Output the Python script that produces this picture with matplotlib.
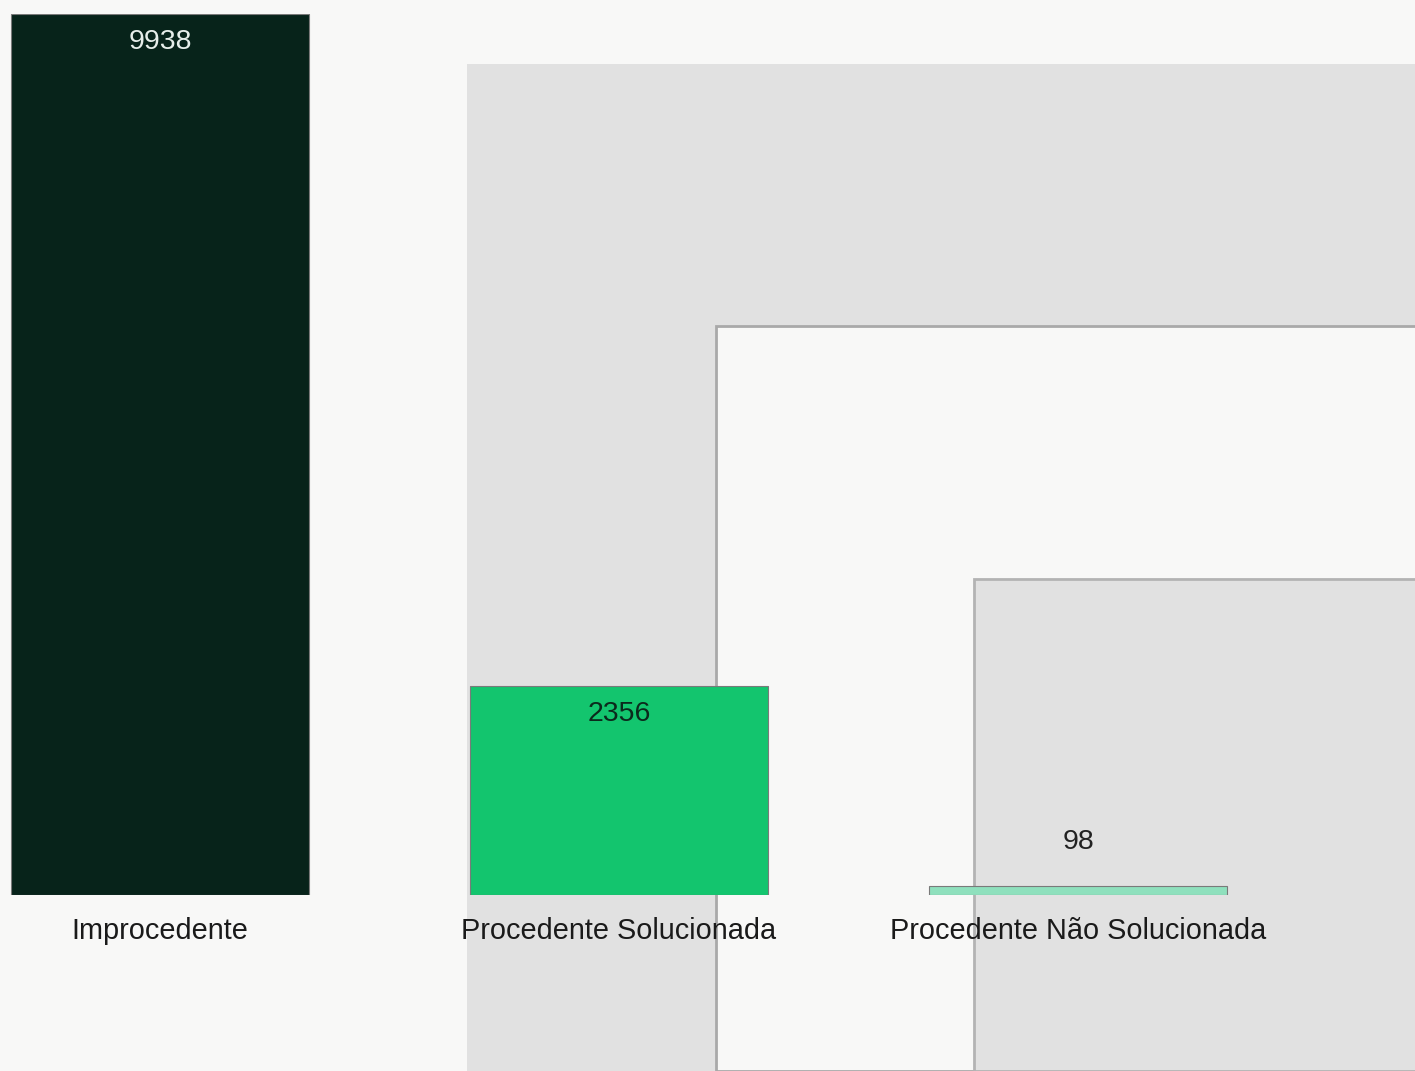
import numpy as np
import matplotlib
matplotlib.use('Agg')
import matplotlib.pyplot as plt
from matplotlib.patches import Rectangle

## data
categorias=['Improcedente','Procedente Solucionada','Procedente Não Solucionada']
valores=[9938,2356,98]
cores=['#07231a','#13c56e','#8fe0bd']
cores_txt=['#e6eeea','#0b2a1c','#222222']

W,H=1415,1071
fig=plt.figure(figsize=(W/100,H/100),dpi=100)
fig.patch.set_facecolor('#f8f8f7')

## background panels (page decorations behind the chart)
def painel(x,y,cor,borda=None):
	# x,y = top-left corner in pixels, panel runs to right/bottom edge
	r=Rectangle((x/W,0),(W-x)/W+0.01,(H-y)/H,transform=fig.transFigure,
		facecolor=cor,edgecolor=borda if borda else cor,lw=2 if borda else 0,zorder=-10)
	fig.patches.append(r)

painel(467,64,'#e1e1e1')
painel(716,326,'#f8f8f7','#a9a9a9')
painel(974,579,'#e1e1e1','#b3b3b3')

## chart axes: baseline at y=895 px, tallest bar top at y=14 px
ax=fig.add_axes([0,(H-895)/H,1,(895-14)/H])
ax.set_facecolor('none')
x=np.arange(len(valores))
barras=ax.bar(x,valores,width=0.65,color=cores,edgecolor='#7a7a7a',linewidth=0.8)
ax.set_xlim(-160/459,(W-160)/459)
ax.set_ylim(0,max(valores))
ax.axis('off')

fonte=['Liberation Sans','DejaVu Sans']
for xi,v,c in zip(x,valores,cores_txt):
	if v>1000:
		ax.annotate(str(v),(xi,v),xytext=(0,-28),textcoords='offset pixels',ha='center',va='center',
			fontsize=20.5,color=c,family=fonte)
	else:
		ax.annotate(str(v),(xi,v),xytext=(0,44),textcoords='offset pixels',ha='center',va='center',
			fontsize=20.5,color=c,family=fonte)
	ax.annotate(categorias[xi],(xi,0),xytext=(0,-36),textcoords='offset pixels',ha='center',va='center',
		fontsize=20.8,color='#1a1a1a',family=fonte)

plt.savefig('out.png',dpi=100,facecolor=fig.get_facecolor())
